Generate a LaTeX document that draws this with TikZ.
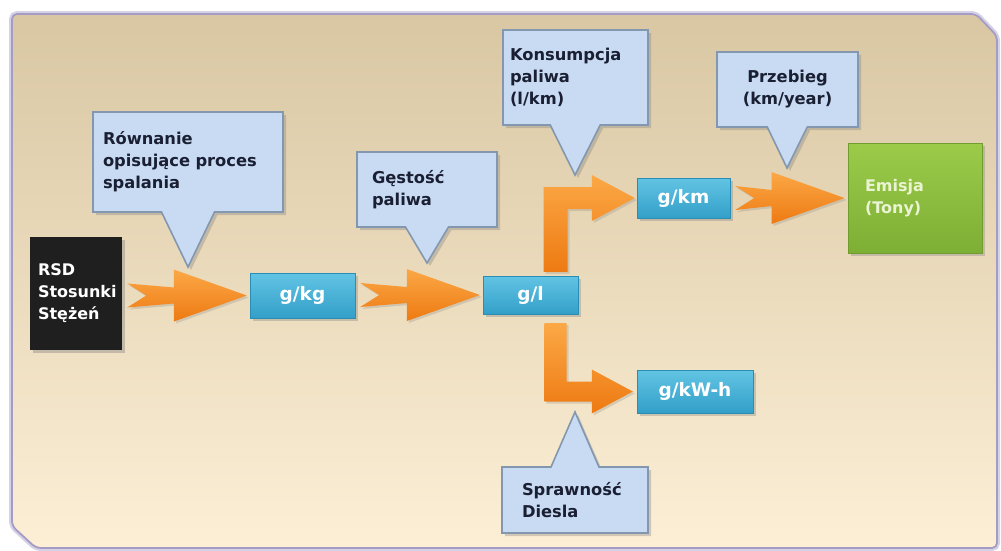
\documentclass[tikz,border=0pt]{standalone}
\usepackage{fontspec}
\setmainfont{DejaVu Sans}
\usepackage{tikz}
\usetikzlibrary{calc}
\usetikzlibrary{shapes.callouts, shadows}

\definecolor{panTop}{HTML}{D9C7A3}
\definecolor{panMid}{HTML}{F6E7CA}
\definecolor{panBot}{HTML}{FCEFD6}
\definecolor{panEdge}{HTML}{A59CC6}
\definecolor{calloutFill}{HTML}{C8DBF2}
\definecolor{calloutEdge}{HTML}{8397AF}
\definecolor{calloutText}{HTML}{1A1F33}
\definecolor{unitTop}{HTML}{62C4E4}
\definecolor{unitBot}{HTML}{339FC8}
\definecolor{unitEdge}{HTML}{2A8DB3}
\definecolor{greenTop}{HTML}{9CCB4A}
\definecolor{greenBot}{HTML}{7DAF35}
\definecolor{greenText}{HTML}{EAF3D2}
\definecolor{arrTop}{HTML}{FBA846}
\definecolor{arrBot}{HTML}{EE7A12}

\tikzset{
  bubble/.style={rectangle callout, fill=calloutFill, draw=calloutEdge, line width=1.6pt,
    align=left, inner ysep=3pt, text=calloutText,
    font=\fontsize{16.3}{22}\selectfont\bfseries,
    drop shadow={opacity=.35, shadow xshift=3pt, shadow yshift=-3pt}},
  unitbox/.style={rectangle, top color=unitTop, bottom color=unitBot, draw=unitEdge,
    text=white, font=\fontsize{18.5}{22}\selectfont\bfseries, inner sep=0pt,
    drop shadow={opacity=.35, shadow xshift=3pt, shadow yshift=-3pt}},
  darkbox/.style={rectangle, fill=black!88, text=white, align=left, inner xsep=8pt,
    font=\fontsize{16}{22}\selectfont\bfseries,
    drop shadow={opacity=.4, shadow xshift=3pt, shadow yshift=-3pt}},
  greenbox/.style={rectangle, top color=greenTop, bottom color=greenBot, draw=greenBot!90!black,
    line width=1pt, text=greenText, align=left, inner xsep=17pt,
    font=\fontsize{16}{22}\selectfont\bfseries,
    drop shadow={opacity=.35, shadow xshift=3pt, shadow yshift=-3pt}},
  arrowfill/.style={top color=arrTop, bottom color=arrBot,
    drop shadow={opacity=.25, shadow xshift=2pt, shadow yshift=-2pt}}
}

\newcommand{\fatarrow}[2]{%
  \shade[arrowfill] let \p1=(#1.east), \p2=(#2.west) in
    (\x1+5pt,\y2+12pt) -- (\x2-76pt,\y2+8pt) -- (\x2-76pt,\y2+26pt)
    -- (\x2-3pt,\y2) -- (\x2-76pt,\y2-26pt) -- (\x2-76pt,\y2-8pt)
    -- (\x1+5pt,\y2-12pt) -- (\x1+24pt,\y2) -- cycle;}

\begin{document}
\begin{tikzpicture}[x=1pt,y=-1pt]
\useasboundingbox (0,0) rectangle (1001,550);
%%
\draw[panEdge!45, line width=6pt, rounded corners=5pt]
  (12,14) -- (976,14) -- (997,36) -- (997,548) -- (36,548) -- (12,526) -- cycle;
\shade[top color=panTop, middle color=panMid, bottom color=panBot, draw=panEdge,
  line width=1.8pt, rounded corners=5pt]
  (12,14) -- (976,14) -- (997,36) -- (997,548) -- (36,548) -- (12,526) -- cycle;
%
\node (rsd) at (76,293.5) [darkbox, text width=76pt, minimum height=113pt] {RSD\\Stosunki\\Stężeń};
\node (gkg) at (302.5,295.5) [unitbox, minimum width=105pt, minimum height=45pt] {g/kg};
\node (gl) at (530.5,295) [unitbox, minimum width=95pt, minimum height=38pt] {g/l};
\node (gkm) at (683.5,198) [unitbox, minimum width=93pt, minimum height=40pt] {g/km};
\node (gkwh) at (695,391.5) [unitbox, minimum width=116pt, minimum height=43pt] {g/kW-h};
\node (emisja) at (915,198) [greenbox, text width=100pt, minimum height=110pt] {Emisja\\(Tony)};
%
\fatarrow{rsd}{gkg}
\fatarrow{gkg}{gl}
\fatarrow{gkm}{emisja}
\shade[arrowfill] let \p1=(gl.north), \p2=(gkm.west) in
  (\x1+13pt,\y1+4pt) -- (\x1+13pt,\y2+11pt) -- (\x2-45pt,\y2+11pt) -- (\x2-45pt,\y2+23pt)
  -- (\x2-2pt,\y2) -- (\x2-45pt,\y2-23pt) -- (\x2-45pt,\y2-11pt) -- (\x1+37pt,\y2-11pt)
  -- (\x1+37pt,\y1+4pt) -- cycle;
\shade[arrowfill] let \p1=(gl.south), \p2=(gkwh.west) in
  (\x1+14pt,\y1-9pt) -- (\x1+14pt,\y2-10pt) -- (\x2-45pt,\y2-10pt) -- (\x2-45pt,\y2-22pt)
  -- (\x2-4pt,\y2) -- (\x2-45pt,\y2+22pt) -- (\x2-45pt,\y2+10pt) -- (\x1+36pt,\y2+10pt)
  -- (\x1+36pt,\y1-9pt) -- cycle;
%
\node (rownanie) at (188,162) [bubble, text width=170pt, inner xsep=10pt, minimum height=100pt,
  callout absolute pointer={(188,267)}, callout pointer width=53pt] {Równanie\\opisujące proces\\spalania};
\node (gestosc) at (427,189.5) [bubble, text width=110pt, inner xsep=15pt, minimum height=75pt,
  callout absolute pointer={(427,263)}, callout pointer width=43pt] {Gęstość\\paliwa};
\node (konsumpcja) at (575.5,77.5) [bubble, text width=131pt, inner xsep=7pt, minimum height=95pt,
  callout absolute pointer={(575,175)}, callout pointer width=50pt] {Konsumpcja\\paliwa\\(l/km)};
\node (przebieg) at (787.5,89.5) [bubble, text width=121pt, inner xsep=10pt, align=center, minimum height=75pt,
  callout absolute pointer={(787,168)}, callout pointer width=40pt] {Przebieg\\(km/year)};
\node (sprawnosc) at (575,500) [bubble, text width=106pt, inner xsep=20pt, minimum height=66pt,
  callout absolute pointer={(575,412)}, callout pointer width=48pt] {Sprawność\\Diesla};
%
\end{tikzpicture}
\end{document}
